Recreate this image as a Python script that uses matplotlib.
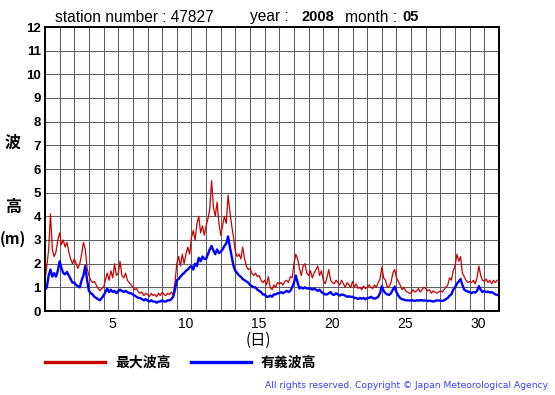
import numpy as np
import matplotlib
matplotlib.use("Agg")
from matplotlib import pyplot as plt
from matplotlib.lines import Line2D

# wave heights (m), 3-hourly, May 2008, station 47827
max_wave = [
    1.3, 1.9, 2.6, 4.1, 2.6, 2.3, 2.5, 3.0,
    3.3, 2.8, 3.0, 2.7, 2.9, 2.5, 2.2, 2.0,
    2.2, 2.0, 1.8, 2.0, 2.4, 2.9, 2.6, 1.8,
    1.5, 1.3, 1.2, 1.25, 1.1, 0.95, 0.85, 0.95,
    1.0, 1.3, 1.6, 1.3, 1.7, 1.4, 2.0, 1.5,
    1.6, 2.1, 1.5, 1.4, 1.6, 1.3, 1.2, 1.1,
    1.0, 0.9, 0.95, 0.8, 0.75, 0.8, 0.65, 0.75,
    0.7, 0.6, 0.75, 0.65, 0.7, 0.6, 0.75, 0.65,
    0.8, 0.7, 0.65, 0.75, 0.7, 0.8, 0.7, 1.2,
    2.0, 2.3, 1.9, 2.4, 2.0, 2.4, 2.7, 2.4,
    3.1, 3.4, 3.0, 3.7, 4.0, 3.3, 3.6, 3.2,
    3.6, 3.9, 4.3, 5.5, 4.4, 4.0, 4.6, 3.7,
    3.2, 3.6, 4.0, 3.7, 4.9, 4.2, 3.6, 3.1,
    2.5, 2.3, 2.4, 2.2, 2.7, 2.2, 1.9, 1.75,
    1.8, 1.6, 1.5, 1.6, 1.45, 1.5, 1.3, 1.2,
    1.3, 1.1, 1.45, 1.0, 0.9, 1.1, 1.0, 1.2,
    1.15, 1.2, 1.1, 1.25, 1.3, 1.2, 1.45, 1.4,
    2.0, 2.4, 2.2, 1.8, 1.5, 1.9, 2.0, 1.6,
    1.5, 1.7, 1.4, 1.6, 1.75, 1.9, 1.5, 1.7,
    1.3, 1.15, 1.4, 1.75, 1.3, 1.2, 1.15, 1.3,
    1.2, 1.1, 1.3, 1.15, 1.0, 1.2, 1.1, 1.0,
    1.25, 1.0, 1.15, 0.95, 1.0, 0.9, 1.05, 0.95,
    1.0, 1.1, 1.0, 0.95, 1.1, 1.0, 1.2, 1.35,
    1.85, 1.4, 1.3, 1.0, 1.05, 1.2, 1.6, 1.75,
    1.4, 1.25, 1.1, 0.9, 1.0, 0.85, 0.8, 0.75,
    0.75, 0.9, 0.8, 0.85, 0.95, 0.8, 0.9, 1.0,
    0.95, 0.85, 0.9, 0.75, 0.85, 0.8, 0.75, 0.8,
    0.85, 0.8, 0.9, 1.0, 1.1, 1.4, 1.3, 1.7,
    1.9, 2.4, 2.1, 2.3, 1.6, 1.45, 1.3, 1.2,
    1.25, 1.2, 1.3, 1.15, 1.4, 1.9, 1.5, 1.3,
    1.25, 1.35, 1.2, 1.3, 1.15, 1.3, 1.2, 1.3,
]
sig_wave = [
    0.9, 1.0, 1.5, 1.75, 1.45, 1.6, 1.45, 1.7,
    2.1, 1.8, 1.6, 1.55, 1.65, 1.5, 1.35, 1.2,
    1.2, 1.1, 1.05, 1.0, 1.3, 1.5, 1.9, 1.3,
    0.85, 0.75, 0.7, 0.6, 0.55, 0.5, 0.45, 0.55,
    0.65, 0.8, 0.95, 0.8, 0.9, 0.8, 0.85, 0.75,
    0.85, 0.9, 0.85, 0.8, 0.85, 0.8, 0.75, 0.75,
    0.7, 0.65, 0.6, 0.55, 0.55, 0.5, 0.45, 0.5,
    0.45, 0.4, 0.45, 0.4, 0.4, 0.35, 0.4, 0.4,
    0.45, 0.4, 0.4, 0.45, 0.45, 0.5, 0.6, 0.9,
    1.3, 1.35, 1.45, 1.55, 1.6, 1.7, 1.75, 1.85,
    1.9, 1.75, 2.0, 1.9, 2.25, 2.1, 2.3, 2.2,
    2.2, 2.4, 2.6, 2.75, 2.55, 2.4, 2.6, 2.45,
    2.5, 2.6, 2.75, 2.85, 3.15, 2.7, 2.3, 1.9,
    1.7, 1.6, 1.5, 1.45, 1.35, 1.3, 1.25, 1.2,
    1.1, 1.05, 1.0, 1.0, 0.9, 0.85, 0.8, 0.7,
    0.7, 0.6, 0.6, 0.65, 0.6, 0.7, 0.7, 0.75,
    0.75, 0.8, 0.75, 0.8, 0.85, 0.8, 0.85, 1.0,
    1.2, 1.5, 1.2, 0.95, 1.0, 0.95, 1.0, 0.95,
    0.95, 0.95, 0.9, 0.95, 0.9, 0.85, 0.9, 0.8,
    0.75, 0.7, 0.7, 0.75, 0.8, 0.7, 0.68, 0.75,
    0.7, 0.65, 0.7, 0.68, 0.65, 0.6, 0.62, 0.6,
    0.6, 0.55, 0.55, 0.5, 0.55, 0.52, 0.55, 0.5,
    0.55, 0.55, 0.6, 0.55, 0.52, 0.55, 0.6, 0.75,
    1.05, 0.85, 0.75, 0.7, 0.68, 0.75, 0.9, 1.03,
    0.8, 0.65, 0.55, 0.5, 0.48, 0.45, 0.45, 0.44,
    0.45, 0.45, 0.42, 0.45, 0.44, 0.46, 0.45, 0.44,
    0.45, 0.42, 0.44, 0.42, 0.4, 0.42, 0.45, 0.44,
    0.45, 0.42, 0.45, 0.5, 0.55, 0.65, 0.7, 0.9,
    1.0, 1.15, 1.25, 1.35, 1.1, 0.9, 0.85, 0.82,
    0.8, 0.75, 0.8, 0.78, 0.85, 1.05, 0.9, 0.8,
    0.85, 0.8, 0.82, 0.78, 0.8, 0.75, 0.7, 0.68,
]
day_labels = [5, 10, 15, 20, 25, 30]
y_ticks = list(range(0, 13))

n_days = 31
t = np.arange(len(max_wave)) / 8.0  # days since May 1 00:00

W, H = 555, 395
fig = plt.figure(figsize=(W / 100, H / 100), dpi=100)
ax = fig.add_axes([45 / W, 1 - 311 / H, 454 / W, 284 / H])

ax.plot(t, max_wave, color="#cc0000", lw=0.9)
ax.plot(t, sig_wave, color="#0000ff", lw=1.7)

ax.set_xlim(0, n_days)
ax.set_ylim(0, 12)
ax.set_xticks(np.arange(0, n_days + 1))
ax.set_xticklabels([])
ax.set_xticks([d - 0.42 for d in day_labels], minor=True)
ax.set_xticklabels([str(d) for d in day_labels], minor=True,
                   fontsize=10, family="Liberation Sans")
ax.tick_params(axis="x", which="both", length=0, pad=4)
ax.set_yticks(y_ticks)
ax.set_yticklabels([str(v) for v in y_ticks], fontsize=9.5,
                   fontweight="bold", family="Liberation Sans")
ax.tick_params(axis="y", length=0, pad=3)
ax.grid(True, which="major", color="#606060", lw=0.75)
ax.set_axisbelow(True)
for s in ax.spines.values():
    s.set_color("black")
    s.set_linewidth(1.4)

# title pieces
def ftext(x, y, s, **kw):
    fig.text(x / W, 1 - y / H, s, va="center", **kw)

ftext(55, 17, "station number : 47827", fontsize=11.2, family="Liberation Sans")
ftext(250, 17, "year : ", fontsize=11.2, family="Liberation Sans")
ftext(302, 17, "2008", fontsize=10.5, family="Liberation Sans", fontweight="bold")
ftext(345, 17, "month : ", fontsize=11.2, family="Liberation Sans")
ftext(402, 17, "05", fontsize=10.5, family="Liberation Sans", fontweight="bold")

# y label
cjk = ["Noto Sans CJK JP", "DejaVu Sans"]
ftext(13, 143, "波", fontsize=11.5, family=cjk, fontweight="bold", ha="center")
ftext(13, 207, "高", fontsize=11.5, family=cjk, fontweight="bold", ha="center")
ftext(13, 239, "(m)", fontsize=11, family=cjk, fontweight="bold", ha="center")

# x label under day 15
ax.text(14.55, -0.105, "(日)", transform=ax.get_xaxis_transform(),
        ha="center", va="center", fontsize=11, family=cjk)

# legend
handles = [Line2D([], [], color="#cc0000", lw=2.4),
           Line2D([], [], color="#0000ff", lw=2.4)]
fig.legend(handles, ["最大波高", "有義波高"], loc="center left",
           bbox_to_anchor=(45 / W, 1 - 363 / H), ncol=2, frameon=False,
           prop=dict(family=cjk, weight="bold", size=10),
           handlelength=4.3, handletextpad=0.75, columnspacing=1.45,
           borderpad=0, borderaxespad=0)

ftext(548, 385, "All rights reserved. Copyright \u00a9 Japan Meteorological Agency",
      fontsize=6.6, family="DejaVu Sans", color="#3c3cff", ha="right")

fig.savefig("out.png", dpi=100)
